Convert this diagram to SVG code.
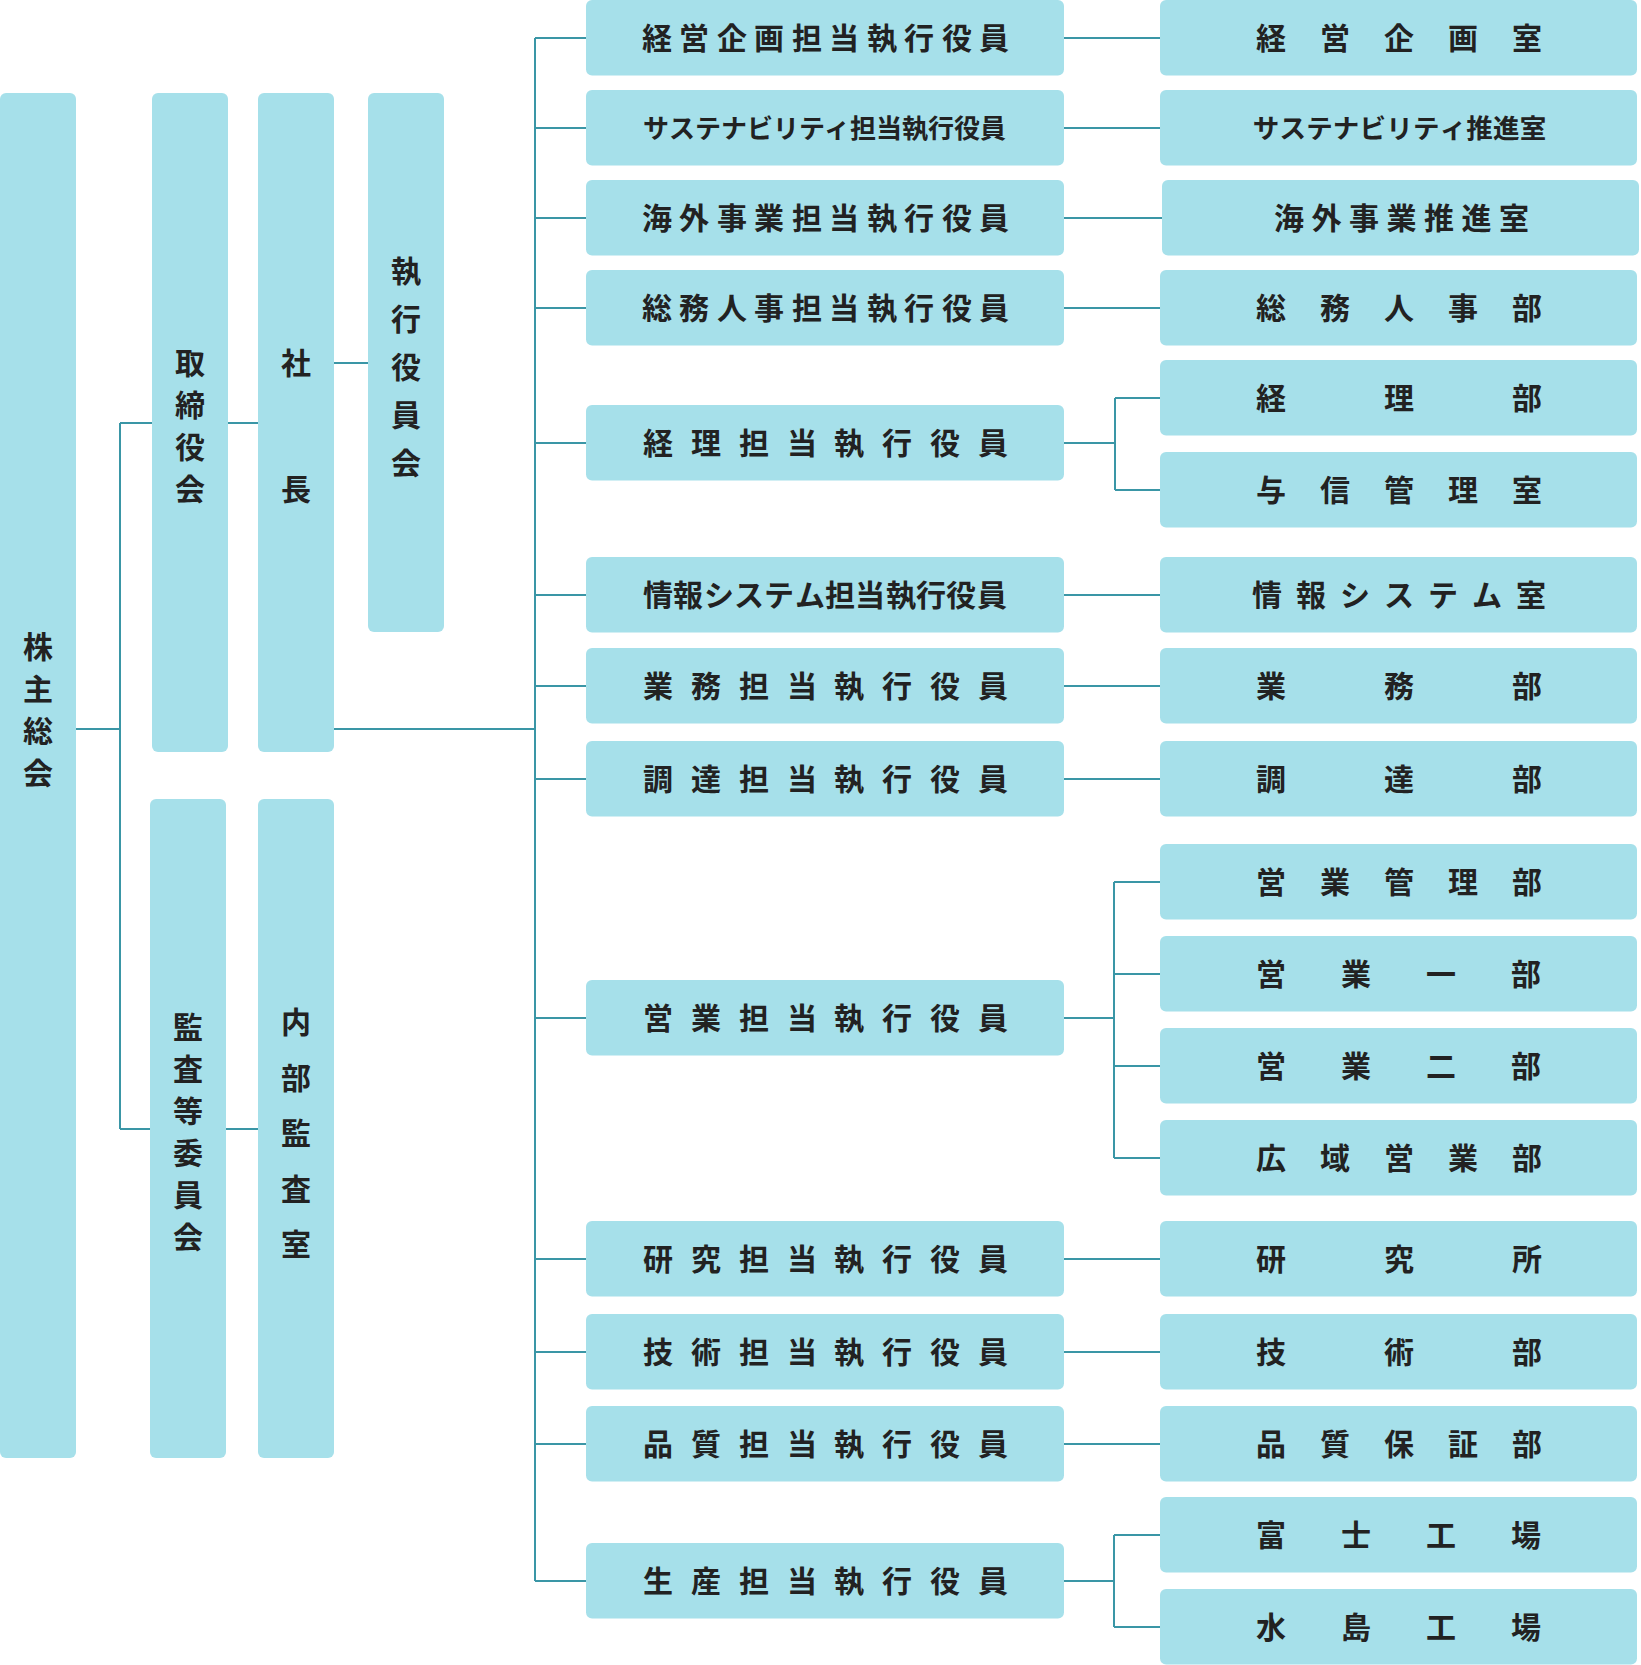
<svg xmlns="http://www.w3.org/2000/svg" width="1641" height="1665" viewBox="0 0 1641 1665">
<style>
.box{fill:#a6e0ea}
.t{font-family:"Noto Sans CJK JP","Noto Sans CJK SC",sans-serif;font-weight:700;font-size:30px;fill:#222;text-anchor:middle;dominant-baseline:central;transform:translate(0px,-2px)}
.s{font-size:26px}
.s2{font-size:26.5px}
.ln{stroke:#3a96a6;stroke-width:2;fill:none}
</style>
<rect width="1641" height="1665" fill="#fff"/>
<g id="connectors" class="ln">
<path d="M76,729H120M120,423V1129M120,423H258M120,1129H258M334,363H368M334,729H535M535,38V1581"/>
<path d="M535,38H586M535,128H586M535,218H586M535,308H586M535,443H586M535,595H586M535,686H586M535,779H586M535,1018H586M535,1259H586M535,1352H586M535,1444H586M535,1581H586"/>
<path d="M1064,38H1160M1064,128H1160M1064,218H1162M1064,308H1160M1064,595H1160M1064,686H1160M1064,779H1160M1064,1259H1160M1064,1352H1160M1064,1444H1160"/>
<path d="M1064,443H1115M1115,398V490M1115,398H1160M1115,490H1160"/>
<path d="M1064,1018H1114M1114,882V1158M1114,882H1160M1114,974H1160M1114,1066H1160M1114,1158H1160"/>
<path d="M1064,1581H1114M1114,1535V1627M1114,1535H1160M1114,1627H1160"/>
</g>
<g id="kabunushi"><rect class="box" x="0" y="93" width="76" height="1365" rx="6"/><text class="t" x="38 38 38 38" y="647 689 731 773">株主総会</text></g>
<g id="torishimariyaku"><rect class="box" x="152" y="93" width="76" height="659" rx="6"/><text class="t" x="190 190 190 190" y="363 405 447 489">取締役会</text></g>
<g id="shacho"><rect class="box" x="258" y="93" width="76" height="659" rx="6"/><text class="t" x="296 296" y="363 489">社長</text></g>
<g id="shikkoyakuinkai"><rect class="box" x="368" y="93" width="76" height="539" rx="6"/><text class="t" x="406 406 406 406 406" y="271 319 367 415 463">執行役員会</text></g>
<g id="kansa"><rect class="box" x="150" y="799" width="76" height="659" rx="6"/><text class="t" x="188 188 188 188 188 188" y="1027 1069 1111 1153 1195 1237">監査等委員会</text></g>
<g id="naibukansa"><rect class="box" x="258" y="799" width="76" height="659" rx="6"/><text class="t" x="296 296 296 296 296" y="1022 1077.5 1133 1188.5 1244">内部監査室</text></g>

<g id="e1"><rect class="box" x="586" y="0" width="478" height="75.5" rx="6"/><text class="t" x="657 694 732 769 807 844 882 919 957 994" y="38">経営企画担当執行役員</text></g>
<g id="e2"><rect class="box" x="586" y="90" width="478" height="75.5" rx="6"/><text class="t s" x="656 682 708 734 760 786 812 837 863 889 915 941 967 993" y="128">サステナビリティ担当執行役員</text></g>
<g id="e3"><rect class="box" x="586" y="180" width="478" height="75.5" rx="6"/><text class="t" x="657 694 732 769 807 844 882 919 957 994" y="218">海外事業担当執行役員</text></g>
<g id="e4"><rect class="box" x="586" y="270" width="478" height="75.5" rx="6"/><text class="t" x="657 694 732 769 807 844 882 919 957 994" y="308">総務人事担当執行役員</text></g>
<g id="e5"><rect class="box" x="586" y="405" width="478" height="75.5" rx="6"/><text class="t" x="658 706 754 802 849 897 945 993" y="443">経理担当執行役員</text></g>
<g id="e6"><rect class="box" x="586" y="557" width="478" height="75.5" rx="6"/><text class="t" x="658 688 719 749 779 810 840 870 901 931 961 992" y="595">情報システム担当執行役員</text></g>
<g id="e7"><rect class="box" x="586" y="648" width="478" height="75.5" rx="6"/><text class="t" x="658 706 754 802 849 897 945 993" y="686">業務担当執行役員</text></g>
<g id="e8"><rect class="box" x="586" y="741" width="478" height="75.5" rx="6"/><text class="t" x="658 706 754 802 849 897 945 993" y="779">調達担当執行役員</text></g>
<g id="e9"><rect class="box" x="586" y="980" width="478" height="75.5" rx="6"/><text class="t" x="658 706 754 802 849 897 945 993" y="1018">営業担当執行役員</text></g>
<g id="e10"><rect class="box" x="586" y="1221" width="478" height="75.5" rx="6"/><text class="t" x="658 706 754 802 849 897 945 993" y="1259">研究担当執行役員</text></g>
<g id="e11"><rect class="box" x="586" y="1314" width="478" height="75.5" rx="6"/><text class="t" x="658 706 754 802 849 897 945 993" y="1352">技術担当執行役員</text></g>
<g id="e12"><rect class="box" x="586" y="1406" width="478" height="75.5" rx="6"/><text class="t" x="658 706 754 802 849 897 945 993" y="1444">品質担当執行役員</text></g>
<g id="e13"><rect class="box" x="586" y="1543" width="478" height="75.5" rx="6"/><text class="t" x="658 706 754 802 849 897 945 993" y="1581">生産担当執行役員</text></g>

<g id="d1"><rect class="box" x="1160" y="0" width="477" height="75.5" rx="6"/><text class="t" x="1271 1335 1399 1463 1527" y="38">経営企画室</text></g>
<g id="d2"><rect class="box" x="1160" y="90" width="477" height="75.5" rx="6"/><text class="t s2" x="1266 1292.7 1319.4 1346.1 1372.8 1399.5 1426.2 1452.9 1479.6 1506.3 1533" y="128">サステナビリティ推進室</text></g>
<g id="d3"><rect class="box" x="1162" y="180" width="477" height="75.5" rx="6"/><text class="t" x="1289 1326.5 1364 1401.5 1439 1476.5 1514" y="218">海外事業推進室</text></g>
<g id="d4"><rect class="box" x="1160" y="270" width="477" height="75.5" rx="6"/><text class="t" x="1271 1335 1399 1463 1527" y="308">総務人事部</text></g>
<g id="d5"><rect class="box" x="1160" y="360" width="477" height="75.5" rx="6"/><text class="t" x="1271 1399 1527" y="398">経理部</text></g>
<g id="d6"><rect class="box" x="1160" y="452" width="477" height="75.5" rx="6"/><text class="t" x="1271 1335 1399 1463 1527" y="490">与信管理室</text></g>
<g id="d7"><rect class="box" x="1160" y="557" width="477" height="75.5" rx="6"/><text class="t" x="1267 1311 1355 1399 1443 1487 1531" y="595">情報システム室</text></g>
<g id="d8"><rect class="box" x="1160" y="648" width="477" height="75.5" rx="6"/><text class="t" x="1271 1399 1527" y="686">業務部</text></g>
<g id="d9"><rect class="box" x="1160" y="741" width="477" height="75.5" rx="6"/><text class="t" x="1271 1399 1527" y="779">調達部</text></g>
<g id="d10"><rect class="box" x="1160" y="844" width="477" height="75.5" rx="6"/><text class="t" x="1271 1335 1399 1463 1527" y="882">営業管理部</text></g>
<g id="d11"><rect class="box" x="1160" y="936" width="477" height="75.5" rx="6"/><text class="t" x="1271 1356 1441 1526" y="974">営業一部</text></g>
<g id="d12"><rect class="box" x="1160" y="1028" width="477" height="75.5" rx="6"/><text class="t" x="1271 1356 1441 1526" y="1066">営業二部</text></g>
<g id="d13"><rect class="box" x="1160" y="1120" width="477" height="75.5" rx="6"/><text class="t" x="1271 1335 1399 1463 1527" y="1158">広域営業部</text></g>
<g id="d14"><rect class="box" x="1160" y="1221" width="477" height="75.5" rx="6"/><text class="t" x="1271 1399 1527" y="1259">研究所</text></g>
<g id="d15"><rect class="box" x="1160" y="1314" width="477" height="75.5" rx="6"/><text class="t" x="1271 1399 1527" y="1352">技術部</text></g>
<g id="d16"><rect class="box" x="1160" y="1406" width="477" height="75.5" rx="6"/><text class="t" x="1271 1335 1399 1463 1527" y="1444">品質保証部</text></g>
<g id="d17"><rect class="box" x="1160" y="1497" width="477" height="75.5" rx="6"/><text class="t" x="1271 1356 1441 1526" y="1535">富士工場</text></g>
<g id="d18"><rect class="box" x="1160" y="1589" width="477" height="75.5" rx="6"/><text class="t" x="1271 1356 1441 1526" y="1627">水島工場</text></g>
</svg>
